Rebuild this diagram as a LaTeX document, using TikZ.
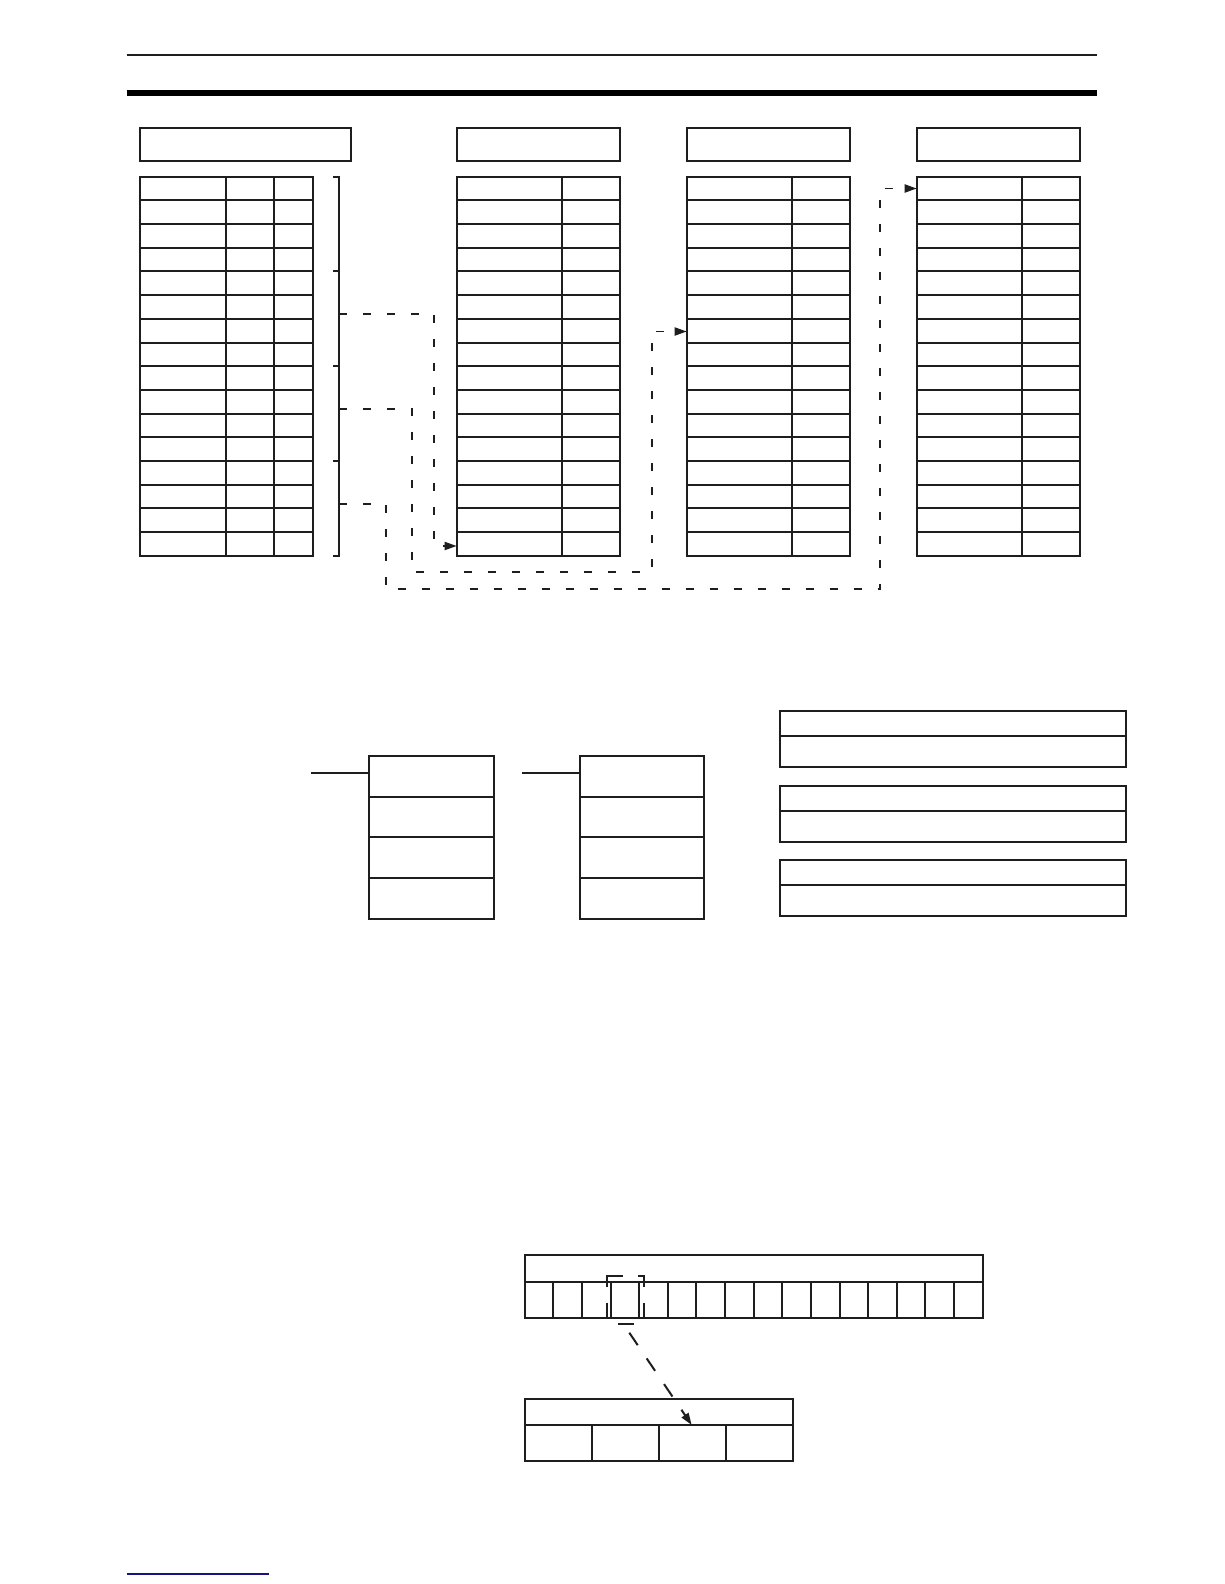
\documentclass[tikz,border=0pt]{standalone}
\usetikzlibrary{arrows.meta}
\definecolor{inkline}{RGB}{30,30,30}
\definecolor{navyline}{RGB}{20,20,130}
\begin{document}
\begin{tikzpicture}[x=1pt,y=-1pt,
  box/.style={draw=inkline, line width=2pt},
  conn/.style={draw=inkline, line width=1.9pt, dash pattern=on 8pt off 16pt},
  tipend/.style={-{Triangle[length=12pt,width=8pt]}},
  line join=miter]
\useasboundingbox (0,0) rectangle (1224,1584);
\fill[white] (0,0) rectangle (1224,1584);

% page rules
\draw[inkline, line width=1.3pt] (126.7,55) -- (1096.7,55);
\draw[black, line width=5.7pt] (126.7,92.9) -- (1096.7,92.9);

% header boxes
\draw[box] (140,128.3) rectangle (351.3,160.7);
\draw[box] (456.7,128.3) rectangle (620,160.7);
\draw[box] (686.7,128.3) rectangle (850,160.7);
\draw[box] (916.7,128.3) rectangle (1080,160.7);

% table 1 (three columns)
\draw[box] (140,176.7) rectangle (312.7,555.7);
\draw[box] (226,176.7) -- (226,555.7);
\draw[box] (274,176.7) -- (274,555.7);
\foreach \i in {1,...,15} {
  \draw[box] (140,{176.7+\i*23.6875}) -- (312.7,{176.7+\i*23.6875});
}

% tables 2-4 (two columns)
\foreach \xl/\xm/\xr in {456.7/562/620, 686.7/791.7/850, 916.7/1021.7/1080} {
  \draw[box] (\xl,176.7) rectangle (\xr,555.7);
  \draw[box] (\xm,176.7) -- (\xm,555.7);
  \foreach \i in {1,...,15} {
    \draw[box] (\xl,{176.7+\i*23.6875}) -- (\xr,{176.7+\i*23.6875});
  }
}

% bracket
\draw[box] (333.3,176.7) -- (339.3,176.7) -- (339.3,555.7) -- (333.3,555.7);
\foreach \y in {271.45,366.2,460.95} {
  \draw[box] (333.3,\y) -- (339.3,\y);
}

% connector end points
\coordinate (b2) at (339.3,313.7);
\coordinate (b3) at (339.3,408.7);
\coordinate (b4) at (339.3,503.7);
\coordinate (t2) at (456.7,546);
\coordinate (t3) at (686.7,331.5);
\coordinate (t4) at (916.7,188.5);

\draw[conn,tipend] (b2) -- (434,313.7) -- (434,546) -- (t2);
\draw[conn,tipend] (b3) -- (412,408.7) -- (412,571.7) -- (651.7,571.7) -- (651.7,331.5) -- (t3);
\draw[conn,tipend] (b4) -- (386,503.7) -- (386,589.3) -- (880,589.3) -- (880,188.5) -- (t4);

% middle left: stacks with lead lines
\foreach \xa/\xl/\xr in {310.7/368.7/494, 522/579.7/704} {
  \draw[box] (\xa,772.7) -- (\xl,772.7);
  \draw[box] (\xl,755.7) rectangle (\xr,919);
  \foreach \y in {796.5,837.3,878.1} {
    \draw[box] (\xl,\y) -- (\xr,\y);
  }
}

% middle right: three two-row boxes
\foreach \yt/\ym/\yb in {710.7/735.7/766.7, 786/810.7/841.7, 860/884.7/916} {
  \draw[box] (780,\yt) rectangle (1125.7,\yb);
  \draw[box] (780,\ym) -- (1125.7,\ym);
}

% bottom 16-cell register
\draw[box] (524.7,1254.7) rectangle (982.7,1318);
\draw[box] (524.7,1282) -- (982.7,1282);
\foreach \i in {1,...,15} {
  \draw[box] ({524.7+\i*28.625},1282) -- ({524.7+\i*28.625},1318);
}

% dashed frame round the fourth cell
\draw[box] (606.7,1286.7) -- (606.7,1276) -- (622.7,1276);
\draw[box] (638.3,1276) -- (644,1276) -- (644,1286.7);
\draw[box] (606.7,1302.7) -- (606.7,1318);
\draw[box] (644,1302.7) -- (644,1318);
\draw[box] (618.3,1324) -- (634,1324);

% lower 4-cell register
\draw[box] (524.7,1399) rectangle (793,1461);
\draw[box] (524.7,1424.7) -- (793,1424.7);
\foreach \x in {591.8,658.9,725.9} {
  \draw[box] (\x,1424.7) -- (\x,1461);
}

% diagonal dashed arrow
\coordinate (dsrc) at (629.3,1332.7);
\coordinate (dtip) at (691.7,1425);
\draw[draw=inkline, line width=2pt, dash pattern=on 15pt off 16pt, tipend] (dsrc) -- (dtip);

% footer rule
\draw[navyline, line width=1.3pt] (126.7,1574) -- (269,1574);
\end{tikzpicture}
\end{document}
